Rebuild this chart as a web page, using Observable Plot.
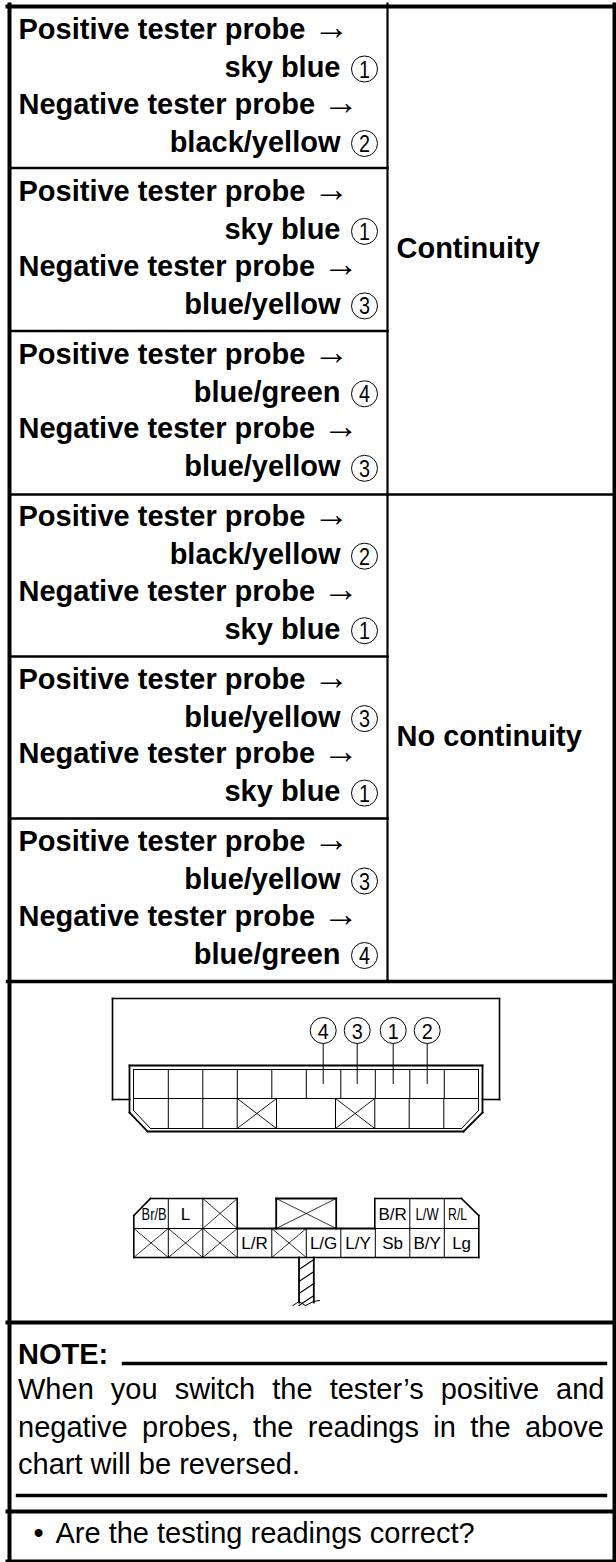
<!DOCTYPE html>
<html><head><meta charset="utf-8">
<script src="https://cdn.jsdelivr.net/npm/d3@7"></script>
<script src="https://cdn.jsdelivr.net/npm/@observablehq/plot@0.6"></script>
<style>html,body{margin:0;padding:0;background:#fff}svg{display:block}</style>
</head><body><div id="chart"></div>
<script>
const sans = "'Liberation Sans', Arial, sans-serif";
const probeRows = [
  ["sky blue", 1, "black/yellow", 2],
  ["sky blue", 1, "blue/yellow", 3],
  ["blue/green", 4, "blue/yellow", 3],
  ["black/yellow", 2, "sky blue", 1],
  ["blue/yellow", 3, "sky blue", 1],
  ["blue/yellow", 3, "blue/green", 4]
];
const results = ["Continuity", "No continuity"];
const noteLines = ["When you switch the tester’s positive and", "negative probes, the readings in the above", "chart will be reversed."];
const question = "Are the testing readings correct?";
const topCalloutOrder = [4, 3, 1, 2];
const harnessTop = ["Br/B", "L", "", "", "", "", "", "B/R", "L/W", "R/L"];
const harnessBottom = ["", "", "", "L/R", "", "L/G", "L/Y", "Sb", "B/Y", "Lg"];

// layout helpers
const colX = i => 133.3 + i * 34.5;
const T = [], D = [], L = [];
const seg = (x1,y1,x2,y2,w=1) => L.push({x1,y1,x2,y2,w});
const poly = (p,w=1) => { for(let i=0;i<p.length-1;i++) seg(p[i][0],p[i][1],p[i+1][0],p[i+1][1],w); };
const txt = (x,y,t,o={}) => T.push({x,y,t,fs:29,fw:"normal",a:"start",...o});

// table frame
[[9,4,9,1562],[614,4,614,1562]].forEach(s=>seg(...s,4));
[6,1322,1511,1561].forEach(y=>seg(7,y,616,y,4));
seg(7,981,616,981,3.4);
seg(9,494,616,494,2.6);
[167.5,330.5,656,818].forEach(y=>seg(9,y,387,y,2.4));
seg(387,3,387,981,2.2);

probeRows.forEach((r,k)=>{
  const y0 = 38.5 + k*162.4;
  const pair = [["Positive",r[0],r[1]],["Negative",r[2],r[3]]];
  pair.forEach(([lab,c,n],j)=>{
    const b = y0 + j*74.5;
    txt(18,b,lab+" tester probe",{fw:"bold"});
    txt(lab==="Positive"?313:322.5,b,"→",{fs:36});
    txt(340,b+38,c,{fw:"bold",a:"end"});
    D.push({x:364,y:b+30,r:13});
    txt(364,b+38.5,String(n),{fs:24,a:"middle",tl:11});
  });
});
txt(396,257,results[0],{fw:"bold"});
txt(396,745,results[1],{fw:"bold"});

// upper connector
poly([[129,1099],[112,1099],[112,998],[499,998],[499,1099],[482,1099]],1.6);
poly([[129,1065],[482,1065],[482,1112],[463,1131],[147,1131],[129,1112],[129,1065]],1.8);
poly([[133,1069],[478,1069],[478,1110],[461,1128],[150,1128],[133,1110],[133,1069]],1);
seg(133,1098,478,1098,1);
d3.range(1,10).map(colX).forEach(x=>seg(x,1069,x,1098,1));
[167.8,202.3,236.7,276,335,374.3,408.7,443.3].forEach(x=>seg(x,1098,x,1128,1));
[[236.7,276],[335,374.3]].forEach(([a,b])=>{seg(a,1098,b,1128,.9);seg(a,1128,b,1098,.9);});
[322.7,356.7,392.7,426.7].forEach((x,i)=>{
  D.push({x,y:1030,r:13});
  seg(x,1043,x,1083,1);
  txt(x,1038,String(topCalloutOrder[i]),{fs:22,a:"middle",tl:11});
});

// harness connector
const yT=1198,yM=1228,yB=1257;
poly([[133.3,1215],[150,yT],[236.7,yT],[236.7,yM]],1.6);
poly([[374.3,yM],[374.3,yT],[461,yT],[478.3,1215],[478.3,yB],[133.3,yB],[133.3,1215]],1.6);
poly([[275.7,yM],[275.7,yT],[335.7,yT],[335.7,yM]],1.8);
seg(133.3,yM,236.7,yM,1); seg(236.7,yM,374.3,yM,1.8); seg(374.3,yM,478.3,yM,1);
seg(275.7,yT,335.7,yM,.8); seg(275.7,yM,335.7,yT,.8);
[1,2,8,9].forEach(i=>seg(colX(i),yT,colX(i),yM,1));
[1,2,3,4,5,6,7,8,9].forEach(i=>seg(colX(i),yM,colX(i),yB,1));
harnessBottom.forEach((t,i)=>{
  const x=colX(i);
  if(t===""){seg(x,yM,x+34.5,yB,.8);seg(x,yB,x+34.5,yM,.8);}
  else txt(x+17.3,yB-9,t,{fs:17,a:"middle"});
});
const topFit = {"Br/B":[25,3],"L/W":[23,0],"R/L":[19,-4]};
harnessTop.forEach((t,i)=>{
  if(t==="") return;
  const f = topFit[t];
  txt(colX(i)+17.3+(f?f[1]:0),yM-9,t,f?{fs:16.5,a:"middle",tl:f[0]}:{fs:17,a:"middle"});
});
seg(colX(2),yT,colX(3),yM,.8);seg(colX(2),yM,colX(3),yT,.8);
// stem
seg(298.5,yB,298.5,1302,1.8);seg(313.3,yB,313.3,1302,1.8);
[1263,1275,1287,1299].forEach(y=>seg(298.5,y+6,313.3,y-4,1.2));
poly([[292.5,1305],[298.5,1301],[305,1305],[313,1301],[319,1300]],1);

// note
txt(17.5,1363,"NOTE:",{fw:"bold"});
seg(123,1363,605,1363,3.4);
noteLines.forEach((t,i)=>txt(17.5,[1398,1436,1473][i],t,{ws:[9,6.3,0][i]}));
seg(17,1495,605,1495,3.4);
txt(33,1542,"•");
txt(55,1542,question);

const textMark = Plot.text(T,{x:"x",y:"y",text:"t",fontSize:"fs",fontWeight:"fw",textAnchor:"a",lineAnchor:"bottom",
  fontFamily:sans,fill:"#000",
  render:(i,s,v,d,c,next)=>{const g=next(i,s,v,d,c);
    d3.select(g).selectAll("text").each(function(_,j){
      const r=T[i[j]];
      this.setAttribute("text-anchor",r.a);
      this.setAttribute("font-size",r.fs);
      this.setAttribute("font-weight",r.fw);
      if(r.ws) this.style.wordSpacing=r.ws+"px";
      if(r.tl){this.setAttribute("textLength",r.tl);this.setAttribute("lengthAdjust","spacingAndGlyphs");}
    });
    return g;}
});

const chart = Plot.plot({
  width:616,height:1562,margin:0,
  x:{domain:[0,616],range:[0,616],axis:null},
  y:{domain:[0,1562],range:[0,1562],axis:null},
  r:{type:"identity"},
  style:{background:"#fff"},
  marks:[
    Plot.link(L,{x1:"x1",y1:"y1",x2:"x2",y2:"y2",stroke:"#000",strokeWidth:"w",strokeLinecap:"square"}),
    Plot.dot(D,{x:"x",y:"y",r:"r",stroke:"#000",strokeWidth:1,fill:"#fff"}),
    textMark
  ]
});
document.getElementById("chart").append(chart);
</script></body></html>
